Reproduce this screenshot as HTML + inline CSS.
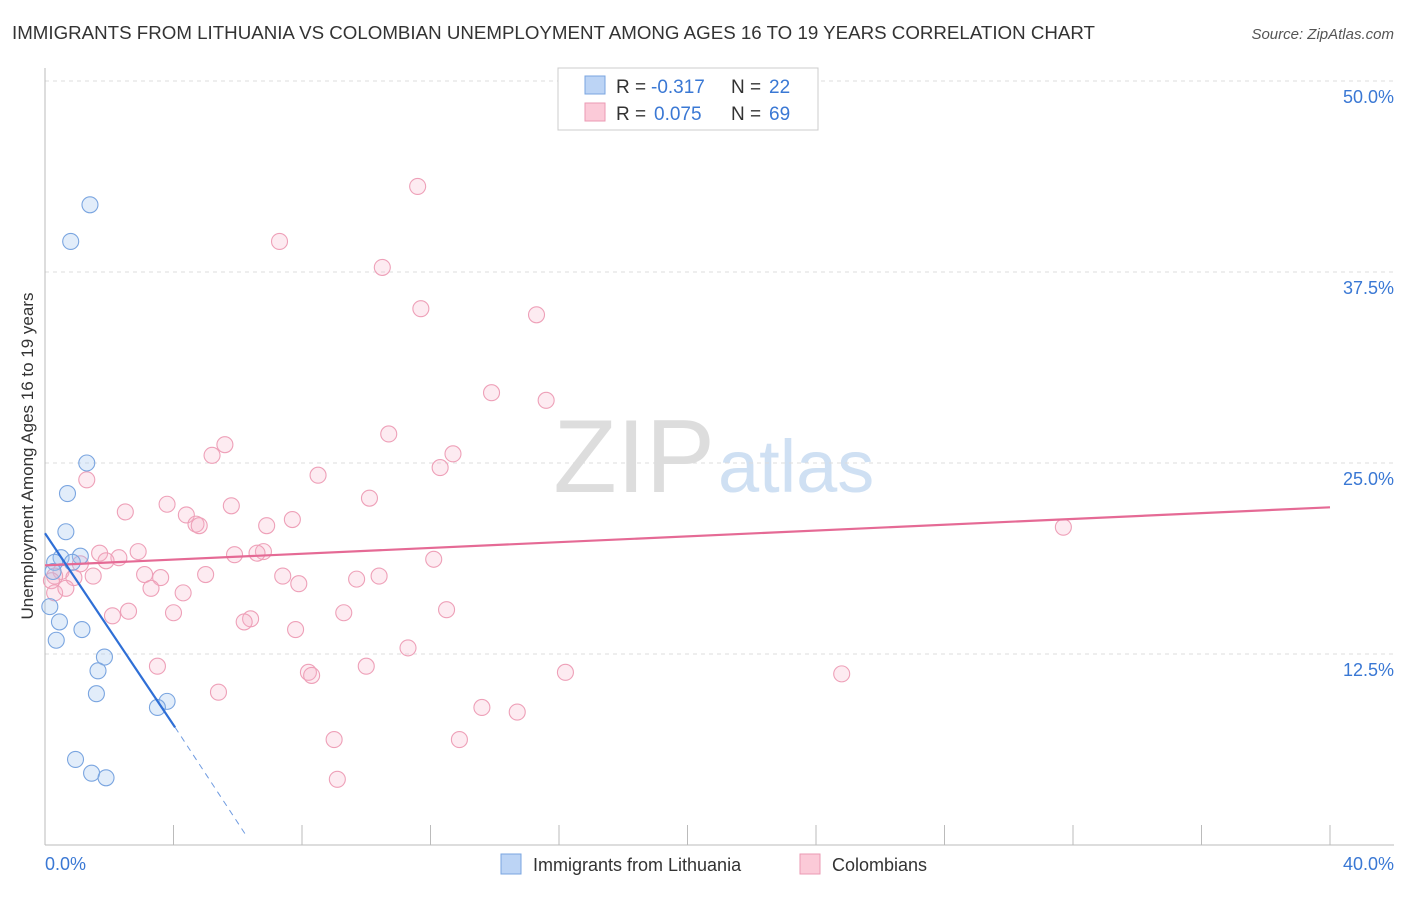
<!DOCTYPE html>
<html><head><meta charset="utf-8"><style>
body{margin:0;background:#fff;font-family:"Liberation Sans",sans-serif;}
svg text{font-family:"Liberation Sans",sans-serif;}
</style></head><body>
<svg width="1406" height="892">
<text x="12" y="39" font-size="18" fill="#333" textLength="1083" lengthAdjust="spacingAndGlyphs">IMMIGRANTS FROM LITHUANIA VS COLOMBIAN UNEMPLOYMENT AMONG AGES 16 TO 19 YEARS CORRELATION CHART</text>
<text x="1394" y="39" font-size="15" fill="#555" font-style="italic" text-anchor="end">Source: ZipAtlas.com</text>
<text x="715" y="492" font-size="104" fill="#ddd" font-family="Liberation Serif" text-anchor="end">ZIP</text>
<text x="718" y="492" font-size="74" fill="#cfe0f3">atlas</text>
<g id="grid"></g>
<line x1="45" y1="68" x2="45" y2="845" stroke="#bbb"/>
<line x1="45" y1="845" x2="1394" y2="845" stroke="#bbb"/>
<text x="0" y="0" font-size="17" fill="#333" transform="translate(33 456) rotate(-90)" text-anchor="middle">Unemployment Among Ages 16 to 19 years</text>
<text x="45" y="870" font-size="18" fill="#3a78d4">0.0%</text>
<text x="1394" y="870" font-size="18" fill="#3a78d4" text-anchor="end">40.0%</text>
<g id="marks"></g>
<rect x="558" y="68" width="260" height="62" fill="#fff" stroke="#ccc"/>
<rect x="585" y="76" width="20" height="18" fill="#bcd4f5" stroke="#7aa5e0"/>
<rect x="585" y="103" width="20" height="18" fill="#fbcad8" stroke="#eb9ab3"/>
<text x="616" y="93" font-size="19" fill="#333">R =</text>
<text x="651" y="93" font-size="19" fill="#3a78d4">-0.317</text>
<text x="731" y="93" font-size="19" fill="#333">N =</text>
<text x="769" y="93" font-size="19" fill="#3a78d4">22</text>
<text x="616" y="120" font-size="19" fill="#333">R =</text>
<text x="654" y="120" font-size="19" fill="#3a78d4">0.075</text>
<text x="731" y="120" font-size="19" fill="#333">N =</text>
<text x="769" y="120" font-size="19" fill="#3a78d4">69</text>
<rect x="501" y="854" width="20" height="20" fill="#bcd4f5" stroke="#7aa5e0"/>
<text x="533" y="871" font-size="18" fill="#333">Immigrants from Lithuania</text>
<rect x="800" y="854" width="20" height="20" fill="#fbcad8" stroke="#eb9ab3"/>
<text x="832" y="871" font-size="18" fill="#333">Colombians</text>
</svg>
<script>
const yTicks=[12.5,25,37.5,50];
const xTicks=[4,8,12,16,20,24,28,32,36,40];
const blueX=[1.4,0.8,1.3,0.7,0.65,0.5,1.1,0.3,0.85,0.25,0.15,0.45,1.15,0.35,1.85,1.65,1.6,3.8,3.5,0.95,1.45,1.9];
const blueY=[41.9,39.5,25.0,23.0,20.5,18.8,18.9,18.5,18.5,17.9,15.6,14.6,14.1,13.4,12.3,11.4,9.9,9.4,9.0,5.6,4.7,4.4];
const pinkX=[11.6,7.3,10.5,11.7,15.3,13.9,15.6,10.7,5.6,12.7,5.2,12.3,1.3,8.5,10.1,3.8,5.8,2.5,4.4,4.7,4.8,7.7,6.9,31.7,1.7,2.9,2.3,1.9,5.9,6.8,6.6,12.1,1.1,0.5,0.3,0.2,1.5,0.9,3.1,3.6,5.0,7.4,10.4,9.7,7.9,3.3,4.3,0.3,0.65,2.1,2.6,4.0,6.4,6.2,9.3,12.5,7.8,11.3,3.5,10.0,8.2,8.3,16.2,24.8,5.4,13.6,14.7,9.0,12.9,9.1];
const pinkY=[43.1,39.5,37.8,35.1,34.7,29.6,29.1,26.9,26.2,25.6,25.5,24.7,23.9,24.2,22.7,22.3,22.2,21.8,21.6,21.0,20.9,21.3,20.9,20.8,19.1,19.2,18.8,18.6,19.0,19.2,19.1,18.7,18.4,17.9,17.6,17.3,17.6,17.5,17.7,17.5,17.7,17.6,17.6,17.4,17.1,16.8,16.5,16.5,16.8,15.0,15.3,15.2,14.8,14.6,15.2,15.4,14.1,12.9,11.7,11.7,11.3,11.1,11.3,11.2,10.0,9.0,8.7,6.9,6.9,4.3];
const X=v=>45+v*32.125, Y=v=>845-v*15.28;
const NS='http://www.w3.org/2000/svg';
const grid=document.getElementById('grid'), marks=document.getElementById('marks');
function mk(tag,attrs,parent){const e=document.createElementNS(NS,tag);for(const k in attrs)e.setAttribute(k,attrs[k]);parent.appendChild(e);return e;}
yTicks.forEach(t=>{
 const l=mk('line',{x1:45,x2:1394,y1:Y(t),y2:Y(t),stroke:'#ddd','stroke-dasharray':'4,4'},grid);
 
 
 const tx=mk('text',{x:1394,y:Y(t)+22,'font-size':18,fill:'#3a78d4','text-anchor':'end'},grid);
 tx.textContent=(t.toFixed(1))+'%';
 
 
});
xTicks.forEach(t=>{
 const l=mk('line',{x1:X(t),x2:X(t),y1:825,y2:845,stroke:'#bbb'},grid);
 
 
});
pinkX.forEach((v,i)=>{
 const c=mk('circle',{cx:X(v),cy:Y(pinkY[i]),r:8,fill:'rgba(248,175,198,0.25)',stroke:'#eea0b8','stroke-width':1.1},marks);
 
 
});
blueX.forEach((v,i)=>{
 const c=mk('circle',{cx:X(v),cy:Y(blueY[i]),r:8,fill:'rgba(160,195,240,0.3)',stroke:'#7aa5e0','stroke-width':1.1},marks);
 
 
});
let l=mk('line',{x1:X(0),y1:Y(18.3),x2:X(40),y2:Y(22.1),stroke:'#e56a95','stroke-width':2.2},marks);


l=mk('line',{x1:X(0),y1:Y(20.4),x2:X(4.05),y2:Y(7.7),stroke:'#2f6fd6','stroke-width':2.2},marks);


l=mk('line',{x1:X(4.05),y1:Y(7.7),x2:X(6.3),y2:Y(0.5),stroke:'#6f9be0','stroke-width':1,'stroke-dasharray':'6,5'},marks);


</script>
</body></html>
